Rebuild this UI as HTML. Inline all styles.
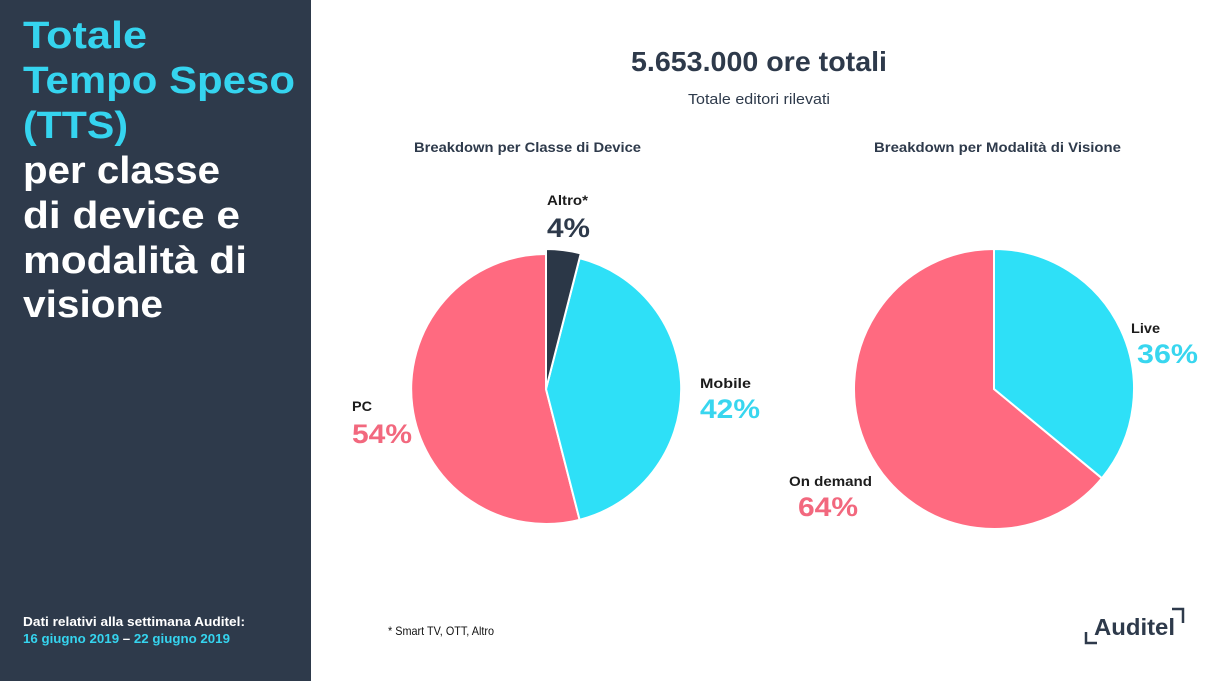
<!DOCTYPE html>
<html>
<head>
<meta charset="utf-8">
<style>
  html,body{margin:0;padding:0;background:#fff;}
  svg{display:block;}
  text{font-family:"Liberation Sans", Arial, sans-serif;}
</style>
</head>
<body>
<svg width="1208" height="681" viewBox="0 0 1208 681" xmlns="http://www.w3.org/2000/svg">
  <rect x="0" y="0" width="1208" height="681" fill="#ffffff"/>
  <!-- Left panel -->
  <rect x="0" y="0" width="311" height="681" fill="#2e3a4b"/>
  <g font-weight="bold" font-size="38">
    <text x="23" y="48" fill="#35d4ef" textLength="124" lengthAdjust="spacingAndGlyphs">Totale</text>
    <text x="23" y="93" fill="#35d4ef" textLength="272" lengthAdjust="spacingAndGlyphs">Tempo Speso</text>
    <text x="23" y="138" fill="#35d4ef" textLength="105" lengthAdjust="spacingAndGlyphs">(TTS)</text>
    <text x="23" y="183" fill="#ffffff" textLength="197" lengthAdjust="spacingAndGlyphs">per classe</text>
    <text x="23" y="228" fill="#ffffff" textLength="217" lengthAdjust="spacingAndGlyphs">di device e</text>
    <text x="23" y="273" fill="#ffffff" textLength="224" lengthAdjust="spacingAndGlyphs">modalità di</text>
    <text x="23" y="317" fill="#ffffff" textLength="140" lengthAdjust="spacingAndGlyphs">visione</text>
  </g>
  <g font-weight="bold" font-size="13">
    <text x="23" y="626" fill="#ffffff" textLength="222" lengthAdjust="spacingAndGlyphs">Dati relativi alla settimana Auditel:</text>
    <text x="23" y="643" fill="#35d4ef" textLength="207" lengthAdjust="spacingAndGlyphs">16 giugno 2019 <tspan fill="#ffffff">–</tspan> 22 giugno 2019</text>
  </g>

  <!-- Header -->
  <text x="759" y="71" fill="#2e3a4b" font-weight="bold" font-size="28" text-anchor="middle" textLength="256" lengthAdjust="spacingAndGlyphs">5.653.000 ore totali</text>
  <text x="759" y="104" fill="#2e3a4b" font-size="14.5" text-anchor="middle" textLength="142" lengthAdjust="spacingAndGlyphs">Totale editori rilevati</text>

  <text x="527.5" y="152" fill="#2e3a4b" font-weight="bold" font-size="13.5" text-anchor="middle" textLength="227" lengthAdjust="spacingAndGlyphs">Breakdown per Classe di Device</text>
  <text x="997.5" y="152" fill="#2e3a4b" font-weight="bold" font-size="13.5" text-anchor="middle" textLength="247" lengthAdjust="spacingAndGlyphs">Breakdown per Modalità di Visione</text>

  <!-- Pie 1 -->
  <g stroke="#ffffff" stroke-width="2" stroke-linejoin="round">
    <path d="M546,389 L579.6,519.8 A135,135 0 1 1 546,254 Z" fill="#ff6a80"/>
    <path d="M546,389 L579.6,258.2 A135,135 0 0 1 579.6,519.8 Z" fill="#2ee0f7"/>
    <path d="M546,389 L546,249 A140,140 0 0 1 580.8,253.4 Z" fill="#2b3747"/>
  </g>

  <!-- Pie 2 -->
  <g stroke="#ffffff" stroke-width="2" stroke-linejoin="round">
    <path d="M994,389 L1101.9,478.2 A140,140 0 1 1 994,249 Z" fill="#ff6a80"/>
    <path d="M994,389 L994,249 A140,140 0 0 1 1101.9,478.2 Z" fill="#2ee0f7"/>
  </g>

  <!-- Labels pie 1 -->
  <g font-weight="bold">
    <text x="547" y="205" fill="#1c1c1c" font-size="14" textLength="41" lengthAdjust="spacingAndGlyphs">Altro*</text>
    <text x="547" y="237" fill="#2e3a4b" font-size="27" textLength="43" lengthAdjust="spacingAndGlyphs">4%</text>

    <text x="352" y="411" fill="#1c1c1c" font-size="14" textLength="20" lengthAdjust="spacingAndGlyphs">PC</text>
    <text x="352" y="443" fill="#f2687e" font-size="27" textLength="60" lengthAdjust="spacingAndGlyphs">54%</text>

    <text x="700" y="388" fill="#1c1c1c" font-size="14" textLength="51" lengthAdjust="spacingAndGlyphs">Mobile</text>
    <text x="700" y="418" fill="#38d6ef" font-size="27" textLength="60" lengthAdjust="spacingAndGlyphs">42%</text>

    <!-- Labels pie 2 -->
    <text x="1131" y="333" fill="#1c1c1c" font-size="14" textLength="29" lengthAdjust="spacingAndGlyphs">Live</text>
    <text x="1137" y="363" fill="#38d6ef" font-size="27" textLength="61" lengthAdjust="spacingAndGlyphs">36%</text>

    <text x="789" y="486" fill="#1c1c1c" font-size="14" textLength="83" lengthAdjust="spacingAndGlyphs">On demand</text>
    <text x="798" y="516" fill="#f2687e" font-size="27" textLength="60" lengthAdjust="spacingAndGlyphs">64%</text>
  </g>

  <!-- Footnote -->
  <text x="388" y="635" fill="#111111" font-size="12" textLength="106" lengthAdjust="spacingAndGlyphs">* Smart TV, OTT, Altro</text>

  <!-- Auditel logo -->
  <text x="1094" y="635" fill="#2e3a4b" font-weight="bold" font-size="23" textLength="81" lengthAdjust="spacingAndGlyphs">Auditel</text>
  <path d="M1086,632 L1086,643 L1097,643" fill="none" stroke="#2e3a4b" stroke-width="2.5"/>
  <path d="M1172,609 L1183,609 L1183,623" fill="none" stroke="#2e3a4b" stroke-width="2.5"/>
</svg>
</body>
</html>
